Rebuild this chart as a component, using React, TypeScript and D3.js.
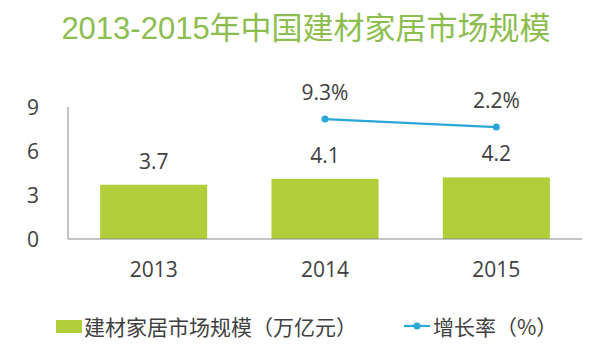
import { useEffect, useRef } from 'react';
import * as d3 from 'd3';

const years = ['2013', '2014', '2015'];
const marketSize = [3.7, 4.1, 4.2];
const growthYears = ['2014', '2015'];
const growthRate = [9.3, 2.2];
const yTicks = [0, 3, 6, 9];

const title = '2013-2015年中国建材家居市场规模';
const barLegend = '建材家居市场规模（万亿元）';
const lineLegend = '增长率（%）';

export default function App() {
    const svgRef = useRef<SVGSVGElement>(null);
    const width = 608;
    const height = 351;

    useEffect(() => {
        if (!svgRef.current) return;
        d3.select(svgRef.current).selectAll('*').remove();
        const svg = d3.select(svgRef.current);

        const numFont = '"Open Sans", "Noto Sans CJK SC", sans-serif';
        const cjkFont = '"Noto Sans CJK SC", "Open Sans", sans-serif';
        const textColor = '#404040';
        const barColor = '#b1cd3a';
        const lineColor = '#2aa7d6';

        // titulo
        svg.append('text')
            .attr('x', 306)
            .attr('y', 39)
            .attr('text-anchor', 'middle')
            .style('font-family', '"Liberation Sans", "Noto Sans CJK SC", sans-serif')
            .style('font-size', '31px')
            .style('fill', '#8dbd4f')
            .text(title);

        // escalas
        const xScale = d3.scaleBand<string>()
            .domain(years)
            .range([68, 582])
            .padding(0);

        const yScale = d3.scaleLinear()
            .domain([0, 9])
            .range([239, 107]);

        // eixo secundario (oculto)
        const y2Scale = d3.scaleLinear()
            .domain([-97, 20])
            .range([239, 107]);

        const barWidth = xScale.bandwidth() * 0.625;
        const cx = (d: string) => (xScale(d) || 0) + xScale.bandwidth() / 2;

        // barras
        svg.selectAll('.bar')
            .data(marketSize)
            .enter()
            .append('rect')
            .attr('class', 'bar')
            .attr('x', (d, i) => cx(years[i]) - barWidth / 2)
            .attr('y', d => yScale(d))
            .attr('width', barWidth)
            .attr('height', d => yScale(0) - yScale(d))
            .attr('fill', barColor);

        // rotulos das barras
        svg.selectAll('.bar-label')
            .data(marketSize)
            .enter()
            .append('text')
            .attr('x', (d, i) => cx(years[i]))
            .attr('y', d => yScale(d) - 16)
            .attr('text-anchor', 'middle')
            .style('font-family', numFont)
            .style('font-size', '21px')
            .style('fill', textColor)
            .text(d => d.toFixed(1));

        // eixos
        svg.append('line')
            .attr('x1', 68).attr('x2', 68)
            .attr('y1', yScale(9)).attr('y2', yScale(0))
            .attr('stroke', '#8a8a8a')
            .attr('stroke-width', 1);
        svg.append('line')
            .attr('x1', 68).attr('x2', 582)
            .attr('y1', yScale(0)).attr('y2', yScale(0))
            .attr('stroke', '#8a8a8a')
            .attr('stroke-width', 1);

        svg.selectAll('.y-tick')
            .data(yTicks)
            .enter()
            .append('text')
            .attr('x', 33)
            .attr('y', d => yScale(d))
            .attr('dy', '0.36em')
            .attr('text-anchor', 'middle')
            .style('font-family', numFont)
            .style('font-size', '21px')
            .style('fill', textColor)
            .text(d => d);

        svg.selectAll('.x-tick')
            .data(years)
            .enter()
            .append('text')
            .attr('x', d => cx(d))
            .attr('y', 277)
            .attr('text-anchor', 'middle')
            .style('font-family', numFont)
            .style('font-size', '21px')
            .style('fill', textColor)
            .text(d => d);

        // linha de crescimento
        const line = d3.line<number>()
            .x((d, i) => cx(growthYears[i]))
            .y(d => y2Scale(d));

        svg.append('path')
            .datum(growthRate)
            .attr('fill', 'none')
            .attr('stroke', lineColor)
            .attr('stroke-width', 2.2)
            .attr('d', line);

        svg.selectAll('.point')
            .data(growthRate)
            .enter()
            .append('circle')
            .attr('cx', (d, i) => cx(growthYears[i]))
            .attr('cy', d => y2Scale(d))
            .attr('r', 3.5)
            .attr('fill', lineColor);

        svg.selectAll('.pct-label')
            .data(growthRate)
            .enter()
            .append('text')
            .attr('x', (d, i) => cx(growthYears[i]))
            .attr('y', d => y2Scale(d) - 19)
            .attr('text-anchor', 'middle')
            .style('font-family', numFont)
            .style('font-size', '21px')
            .style('fill', textColor)
            .text(d => d.toFixed(1) + '%');

        // legenda
        svg.append('rect')
            .attr('x', 56).attr('y', 320)
            .attr('width', 26).attr('height', 13)
            .attr('fill', barColor);
        svg.append('text')
            .attr('x', 84).attr('y', 335)
            .style('font-family', cjkFont)
            .style('font-size', '21px')
            .style('fill', textColor)
            .text(barLegend);

        svg.append('line')
            .attr('x1', 404).attr('x2', 430)
            .attr('y1', 326).attr('y2', 326)
            .attr('stroke', lineColor)
            .attr('stroke-width', 2.2);
        svg.append('circle')
            .attr('cx', 417).attr('cy', 326)
            .attr('r', 3.5)
            .attr('fill', lineColor);
        svg.append('text')
            .attr('x', 433).attr('y', 335)
            .style('font-family', cjkFont)
            .style('font-size', '21px')
            .style('fill', textColor)
            .text(lineLegend);
    }, []);

    return (
        <svg
            ref={svgRef}
            width={width}
            height={height}
            style={{ position: 'absolute', left: 0, top: 0, background: '#fff' }}
        />
    );
}
